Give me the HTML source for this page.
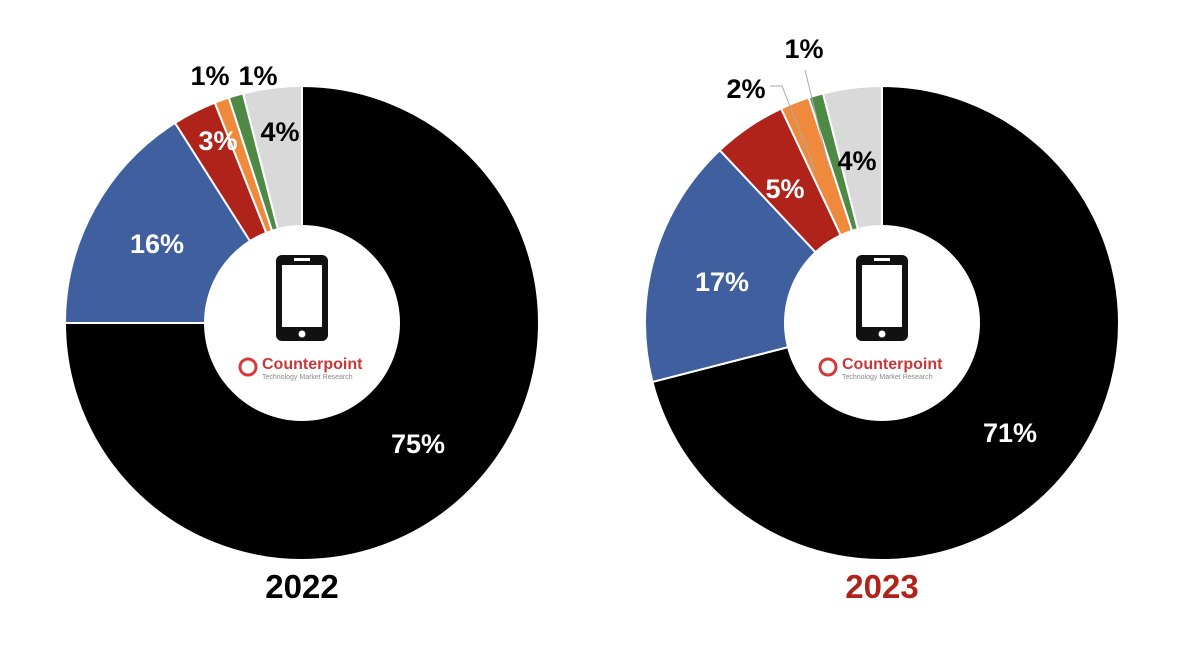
<!DOCTYPE html>
<html><head><meta charset="utf-8"><style>
body{margin:0;background:#fff;width:1200px;height:640px;overflow:hidden}
svg text{font-family:"Liberation Sans",sans-serif;font-weight:bold}
</style></head><body>
<svg id="chart" width="1200" height="640"></svg>
<script>
const categories=["Black","Blue","Red","Orange","Green","Grey"];
const colors=["#000000","#3f5f9e","#b0231a","#ef8a3c","#4e8a46","#d9d9d9"];
const values2022=[75,16,3,1,1,4];
const values2023=[71,17,5,2,1,4];
const years=["2022","2023"];
const NS="http://www.w3.org/2000/svg";
const svg=document.getElementById('chart');
function mk(t,a,p){const e=document.createElementNS(NS,t);for(const k in a)e.setAttribute(k,a[k]);(p||svg).appendChild(e);return e;}
const R=237,r=98;
function pt(cx,cy,rad,f){const a=f*2*Math.PI;return [cx+rad*Math.sin(a),cy-rad*Math.cos(a)];}
function donut(cx,cy,vals,idx,labelPos,yearColor){
  const g=mk('g',{});
  
  
  const tot=vals.reduce((a,b)=>a+b,0);let acc=0;
  vals.forEach((v,i)=>{
    const f0=acc/tot,f1=(acc+v)/tot;acc+=v;
    const [x0,y0]=pt(cx,cy,R,f0),[x1,y1]=pt(cx,cy,R,f1);
    const large=(f1-f0)>0.5?1:0;
    const p=mk('path',{d:`M${cx},${cy}L${x0},${y0}A${R},${R} 0 ${large} 1 ${x1},${y1}Z`,fill:colors[i],stroke:'#fff','stroke-width':2},g);
    
    
  });
  const c=mk('circle',{cx:cx,cy:cy,r:r,fill:'#fff'},g);
  
  
  const ph=mk('g',{},g);
  
  
  mk('rect',{x:cx-26,y:cy-68,width:52,height:86,rx:6,fill:'#111'},ph);
  mk('rect',{x:cx-20,y:cy-58,width:40,height:62,fill:'#fff'},ph);
  mk('rect',{x:cx-8,y:cy-65,width:16,height:3,fill:'#fff'},ph);
  mk('circle',{cx:cx,cy:cy+11,r:3.5,fill:'#fff'},ph);
  const lg=mk('g',{},g);
  
  
  mk('circle',{cx:cx-54,cy:cy+44,r:8,fill:'none',stroke:'#d6393a','stroke-width':3},lg);
  const t1=mk('text',{x:cx-40,y:cy+46,'font-size':16,fill:'#c8373a'},lg);t1.textContent='Counterpoint';
  const t2=mk('text',{x:cx-40,y:cy+56,'font-size':7,fill:'#888'},lg);t2.textContent='Technology Market Research';
  t2.style.fontWeight='normal';
  labelPos.forEach((lp,i)=>{
    const t=mk('text',{x:lp[0],y:lp[1],'font-size':27,'text-anchor':'middle',fill:lp[2]},g);
    t.textContent=vals[i]+'%';
    
    
  });
  const y=mk('text',{x:cx,y:598,'font-size':33,'text-anchor':'middle',fill:yearColor},g);
  y.textContent=years[idx];
  
  
}
donut(302,323,values2022,0,[[418,453,'#fff'],[157,253,'#fff'],[218,150,'#fff'],[210,85,'#000'],[258,85,'#000'],[280,141,'#000']],'#000');
donut(882,323,values2023,1,[[1010,442,'#fff'],[722,291,'#fff'],[785,198,'#fff'],[746,98,'#000'],[804,58,'#000'],[857,170,'#000']],'#b0231a');
const l1=mk('polyline',{points:'770,86 782,86 815,170',fill:'none',stroke:'#aaa','stroke-width':1});


const l2=mk('polyline',{points:'805,70 829,168',fill:'none',stroke:'#aaa','stroke-width':1});


</script>
</body></html>
